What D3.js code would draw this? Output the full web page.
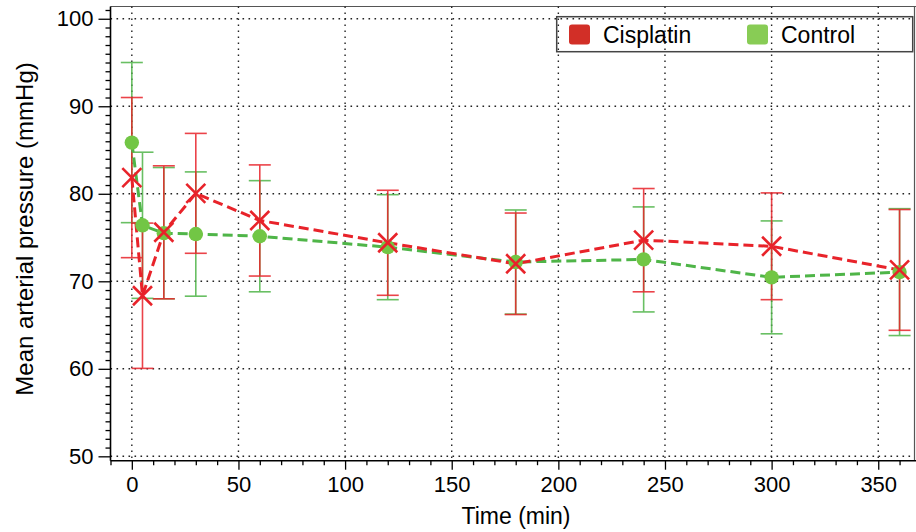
<!DOCTYPE html>
<html>
<head>
<meta charset="utf-8">
<script src="https://cdn.jsdelivr.net/npm/d3@7"></script>
<style>
  body { margin: 0; background: #fff; }
  svg { display: block; font-family: "Liberation Sans", Arial, Helvetica, sans-serif; }
</style>
</head>
<body>
<svg id="chart" width="916" height="532"></svg>
<script>
// time points (min)
const times = [0, 5, 15, 30, 60, 120, 180, 240, 300, 360];

// Cisplatin group: mean and error
const cisMean = [81.85, 68.35, 75.6, 80.05, 76.95, 74.4, 72.0, 74.7, 74.0, 71.3];
const cisErr  = [9.15, 8.3, 7.6, 6.85, 6.35, 6.0, 5.8, 5.9, 6.1, 6.9];

// Control group: mean and error
const ctrlMean = [85.85, 76.4, 75.5, 75.4, 75.15, 73.9, 72.2, 72.5, 70.45, 71.05];
const ctrlErr  = [9.15, 8.35, 7.5, 7.1, 6.35, 6.0, 5.95, 6.0, 6.45, 7.25];

const xTicks = [0, 50, 100, 150, 200, 250, 300, 350];
const yTicks = [50, 60, 70, 80, 90, 100];

const seriesNames = ["Cisplatin", "Control"];

const svg = d3.select("#chart");
const pLeft = 110.5, pRight = 914.5, pTop = 6.5, pBottom = 460.7;

const x = d3.scaleLinear().domain([-10, 367]).range([pLeft, pRight]);
const y = d3.scaleLinear().domain([49.5, 101.4]).range([pBottom, pTop]);

const red = "#e8232a", green = "#4fb548", greenFill = "#72c645";

// frame (top / right)
svg.append("line").attr("x1", pLeft).attr("x2", 916).attr("y1", pTop).attr("y2", pTop)
  .attr("stroke", "#555").attr("stroke-width", 1.2);
svg.append("line").attr("x1", pRight).attr("x2", pRight).attr("y1", pTop).attr("y2", pBottom)
  .attr("stroke", "#555").attr("stroke-width", 1.2);

// grid
const grid = svg.append("g").attr("stroke", "#222").attr("stroke-width", 1.4)
  .attr("stroke-dasharray", "1.6,4.4");
grid.selectAll(".gx").data(xTicks).enter().append("line")
  .attr("x1", d => x(d)).attr("x2", d => x(d)).attr("y1", pTop).attr("y2", pBottom);
grid.selectAll(".gy").data(yTicks).enter().append("line")
  .attr("x1", pLeft).attr("x2", pRight).attr("y1", d => y(d)).attr("y2", d => y(d));

// axes
const yMinor = d3.range(50, 102, 1).filter(v => v % 10 !== 0);
const xMinor = d3.range(-10, 367, 10).filter(v => v % 50 !== 0);

function styleAxis(g) {
  g.select(".domain").remove();
  g.selectAll("line").attr("stroke", "#000").attr("stroke-width", 1.3);
  g.selectAll("text").attr("fill", "#000").style("font-size", "22px");
}

svg.append("g").attr("transform", `translate(${pLeft},0)`)
  .call(d3.axisLeft(y).tickValues(yTicks).tickSize(12).tickPadding(5).tickFormat(d3.format("d")))
  .call(styleAxis);
svg.append("g").attr("transform", `translate(${pLeft},0)`)
  .call(d3.axisLeft(y).tickValues(yMinor).tickSize(5).tickFormat(""))
  .call(styleAxis);
svg.append("g").attr("transform", `translate(0,${pBottom})`)
  .call(d3.axisBottom(x).tickValues(xTicks).tickSize(9).tickPadding(7).tickFormat(d3.format("d")))
  .call(styleAxis);
svg.append("g").attr("transform", `translate(0,${pBottom})`)
  .call(d3.axisBottom(x).tickValues(xMinor).tickSize(4.5).tickFormat(""))
  .call(styleAxis);

svg.append("line").attr("x1", pLeft).attr("x2", pLeft).attr("y1", pTop).attr("y2", pBottom)
  .attr("stroke", "#000").attr("stroke-width", 1.6);
svg.append("line").attr("x1", pLeft).attr("x2", 916).attr("y1", pBottom).attr("y2", pBottom)
  .attr("stroke", "#000").attr("stroke-width", 1.6);

// axis titles
svg.append("text").attr("x", 516).attr("y", 524)
  .attr("text-anchor", "middle").style("font-size", "23px").text("Time (min)");
svg.append("text").attr("transform", `translate(33,229) rotate(-90)`)
  .attr("text-anchor", "middle").style("font-size", "24px").text("Mean arterial pressure (mmHg)");

// error bars
function errorBars(means, errs, color, opacity) {
  const g = svg.append("g").attr("stroke", color).attr("stroke-width", 1.6).attr("opacity", opacity);
  const rows = times.map((t, i) => ({ t, m: means[i], e: errs[i] }));
  g.selectAll(".v").data(rows).enter().append("line")
    .attr("x1", d => x(d.t)).attr("x2", d => x(d.t))
    .attr("y1", d => y(d.m - d.e)).attr("y2", d => y(d.m + d.e));
  [-1, 1].forEach(s => {
    g.selectAll(".c" + s).data(rows).enter().append("line")
      .attr("x1", d => x(d.t) - 11).attr("x2", d => x(d.t) + 11)
      .attr("y1", d => y(d.m + s * d.e)).attr("y2", d => y(d.m + s * d.e));
  });
}
errorBars(ctrlMean, ctrlErr, green, 0.85);
errorBars(cisMean, cisErr, red, 0.85);

// dashed lines
const line = d3.line().x(d => x(d[0])).y(d => y(d[1]));
svg.append("path").datum(times.map((t, i) => [t, ctrlMean[i]]))
  .attr("d", line).attr("fill", "none").attr("stroke", green)
  .attr("stroke-width", 3).attr("stroke-dasharray", "10,5");
svg.append("path").datum(times.map((t, i) => [t, cisMean[i]]))
  .attr("d", line).attr("fill", "none").attr("stroke", red)
  .attr("stroke-width", 3).attr("stroke-dasharray", "10,5");

// markers
svg.selectAll(".ctrlPt").data(times).enter().append("circle")
  .attr("cx", d => x(d)).attr("cy", (d, i) => y(ctrlMean[i])).attr("r", 7.2)
  .attr("fill", greenFill);
svg.selectAll(".cisPt").data(times).enter().append("path")
  .attr("transform", (d, i) => `translate(${x(d)},${y(cisMean[i])})`)
  .attr("d", "M-9.5,-9.5L9.5,9.5M-9.5,9.5L9.5,-9.5")
  .attr("stroke", red).attr("stroke-width", 2.6).attr("fill", "none");

// legend
const lg = svg.append("g");
lg.append("rect").attr("x", 556.7).attr("y", 16.7).attr("width", 356).attr("height", 35)
  .attr("fill", "none").attr("stroke", "#444").attr("stroke-width", 1.5);
const swatch = ["#d22f27", "#88cc55"];
const lx = [569, 747];
seriesNames.forEach((name, i) => {
  lg.append("rect").attr("x", lx[i]).attr("y", 24.5).attr("width", 21).attr("height", 20)
    .attr("rx", 3).attr("fill", swatch[i]);
  lg.append("text").attr("x", lx[i] + 34).attr("y", 43).style("font-size", "23px").text(name);
});
</script>
</body>
</html>
